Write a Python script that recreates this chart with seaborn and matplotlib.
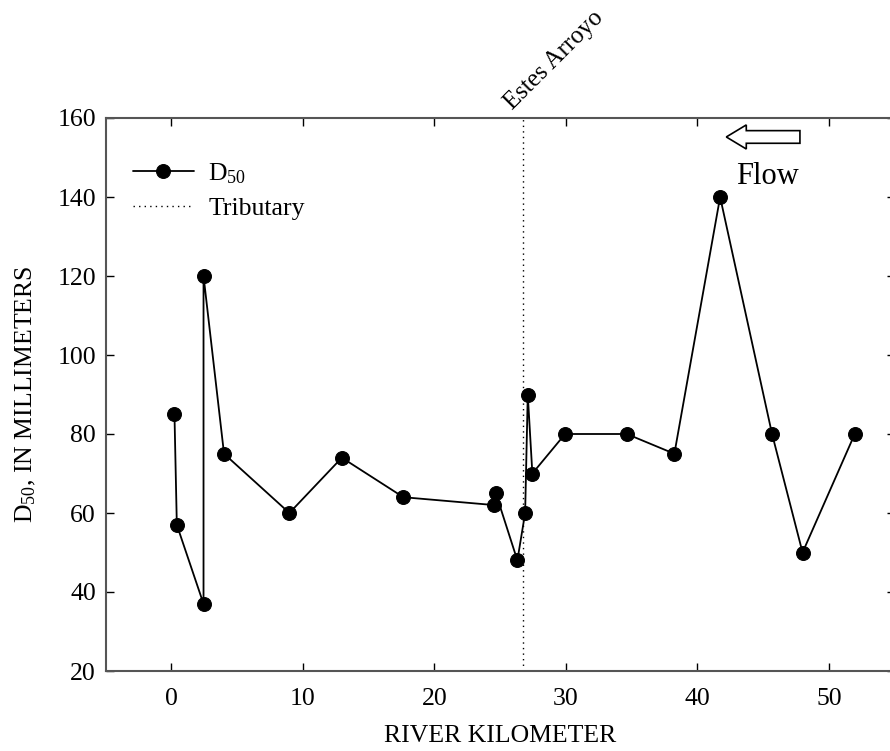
import matplotlib
matplotlib.use("Agg")
import matplotlib.pyplot as plt
import matplotlib.patches as mpatches
import seaborn as sns
import pandas as pd

# ---- data ----
river_km = [0.23, 0.41, 2.44, 2.44, 4.0, 8.97, 12.96, 17.64, 24.56, 24.67,
            26.31, 26.9, 27.1, 27.45, 29.94, 34.63, 38.25, 41.73, 45.68, 48.0, 51.97]
d50_mm = [85, 57, 37, 120, 75, 60, 74, 64, 62, 65,
          48, 60, 90, 70, 80, 80, 75, 140, 80, 50, 80]
tributary_km = 26.7
tributary_name = "Estes Arroyo"
x_ticks = [0, 10, 20, 30, 40, 50]
y_ticks = [20, 40, 60, 80, 100, 120, 140, 160]

df = pd.DataFrame({"km": river_km, "d50": d50_mm})

sns.set_theme(style="ticks")
plt.rcParams["font.family"] = ["Liberation Serif", "DejaVu Serif"]
plt.rcParams["mathtext.fontset"] = "custom"
plt.rcParams["mathtext.rm"] = "Liberation Serif"
plt.rcParams["mathtext.it"] = "Liberation Serif:italic"
plt.rcParams["text.color"] = "black"
plt.rcParams["axes.labelcolor"] = "black"

FS = 18.5

fig = plt.figure(figsize=(8.9, 7.51), dpi=100)
ax = fig.add_axes([105.7 / 890, 80 / 751, (894.6 - 105.7) / 890, (671 - 118) / 751])

sns.lineplot(data=df, x="km", y="d50", ax=ax, sort=False, estimator=None,
             color="black", linewidth=1.3, marker="o", markersize=10,
             markeredgecolor="black", markerfacecolor="black",
             label=r"D$_{\mathrm{50}}$")
ax.axvline(tributary_km, color="black", linewidth=1.0, linestyle=(0, (1, 3)),
           label="Tributary")

ax.set_xlim(-5, 55)
ax.set_ylim(20, 160)
ax.set_xticks(x_ticks)
ax.set_yticks(y_ticks)
ax.tick_params(direction="in", length=6, width=1, top=True, right=True,
               labelsize=FS, colors="black")
ax.tick_params(axis="x", pad=12)
ax.tick_params(axis="y", pad=7)
for s in ax.spines.values():
    s.set_color("#555555")
    s.set_linewidth(1.5)

ax.set_xlabel("RIVER KILOMETER", fontsize=FS, labelpad=11)
ax.set_ylabel(r"D$_{\mathrm{50}}$, IN MILLIMETERS", fontsize=FS, labelpad=14)

leg = ax.legend(loc="upper left", bbox_to_anchor=(0.034, 0.922), frameon=False,
                fontsize=FS, handlelength=2.4, handletextpad=0.55,
                borderpad=0, borderaxespad=0, labelspacing=0.45)

# tributary name
ax.text(25.9, 161.8, tributary_name, rotation=45, rotation_mode="anchor",
        ha="left", va="baseline", fontsize=18, clip_on=False)

# flow arrow
arrow = mpatches.FancyArrow(47.8, 155.2, -5.6, 0, width=3.2, head_width=6.1,
                            head_length=1.52, length_includes_head=True,
                            facecolor="white", edgecolor="black", linewidth=1.2)
ax.add_patch(arrow)
ax.text(45.3, 143.3, "Flow", ha="center", va="baseline", fontsize=22)

fig.savefig("out.png", dpi=100)
